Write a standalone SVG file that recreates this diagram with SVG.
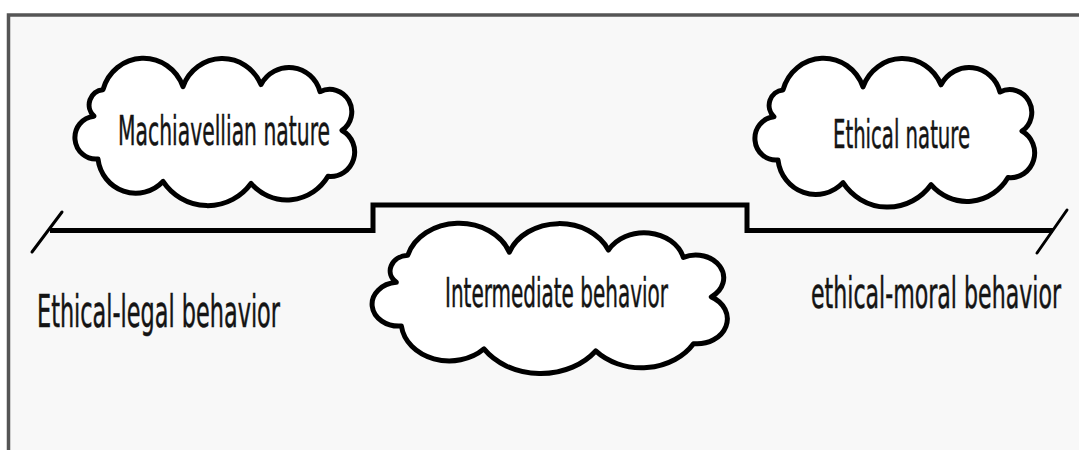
<svg xmlns="http://www.w3.org/2000/svg" xmlns:xlink="http://www.w3.org/1999/xlink" width="1079" height="450" viewBox="0 0 1079 450">
  <style>
    .frame { stroke: #555; stroke-width: 3.5; fill: none; }
    .cloud { fill: #fff; stroke: #000; stroke-width: 5; stroke-linejoin: round; vector-effect: non-scaling-stroke; }
    .label { font-family: "Liberation Sans Narrow", "DejaVu Sans Condensed", "Liberation Sans", sans-serif; fill: #141414; stroke: #141414; stroke-width: 0.5; }
    .scale { fill: none; stroke: #000; stroke-width: 5; stroke-linejoin: miter; }
    .tick { fill: none; stroke: #000; stroke-width: 3; stroke-linecap: round; }
  </style>
  <defs>
    <!-- cloud outline drawn in a 280 x 145 box -->
    <path id="cloud" class="cloud" d="M25,32 A42,42 0 0 1 105,29 A42,42 0 0 1 183,27 A32,32 0 0 1 242,34 A22,22 0 0 1 264,72 A24,24 0 0 1 250,117 A48,48 0 0 1 173,124 A54,54 0 0 1 85,122 A38,38 0 0 1 20,100 A21,21 0 0 1 16,58 A15,15 0 0 1 25,32 Z"/>
  </defs>

  <!-- page background and frame -->
  <rect x="0" y="0" width="1079" height="450" fill="#fff"/>
  <rect x="9" y="16" width="1070" height="434" fill="#f8f8f8"/>
  <path class="frame" d="M8.5,450 V15 H1079"/>

  <!-- scale line with end ticks -->
  <g id="connectors">
    <path class="scale" d="M50,230.5 H373 V205 H747 V230.5 H1053"/>
    <line class="tick" x1="32" y1="252" x2="62" y2="212"/>
    <line class="tick" x1="1037" y1="253" x2="1067" y2="210"/>
  </g>

  <g id="machiavellian">
    <use xlink:href="#cloud" transform="translate(78,57) scale(1.0,1.02)"/>
    <text class="label" x="118" y="145" font-size="41" textLength="212" lengthAdjust="spacingAndGlyphs">Machiavellian nature</text>
  </g>

  <g id="ethical">
    <use xlink:href="#cloud" transform="translate(758,57) scale(1.0,1.03)"/>
    <text class="label" x="833" y="148" font-size="39" textLength="137" lengthAdjust="spacingAndGlyphs">Ethical nature</text>
  </g>

  <g id="intermediate">
    <use xlink:href="#cloud" transform="translate(376,222) scale(1.27,1.04)"/>
    <text class="label" x="445" y="307" font-size="40" textLength="223" lengthAdjust="spacingAndGlyphs">Intermediate behavior</text>
  </g>

  <g id="legal">
    <text class="label" x="37" y="327" font-size="44" textLength="243" lengthAdjust="spacingAndGlyphs">Ethical-legal behavior</text>
  </g>

  <g id="moral">
    <text class="label" x="811" y="308" font-size="42" textLength="250" lengthAdjust="spacingAndGlyphs">ethical-moral behavior</text>
  </g>
</svg>
